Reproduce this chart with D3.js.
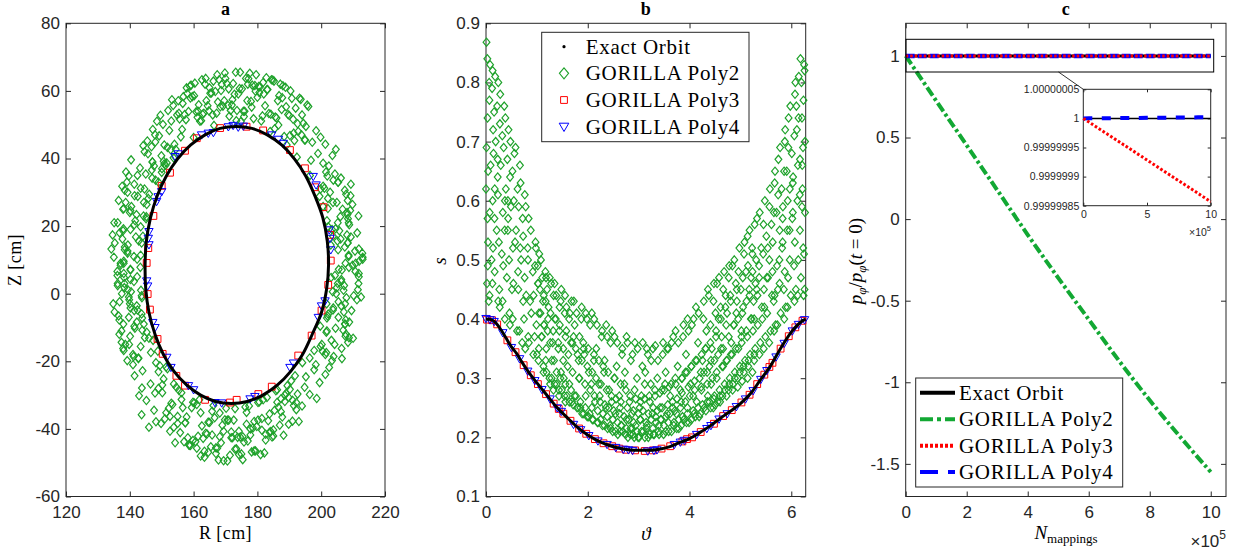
<!DOCTYPE html>
<html>
<head>
<meta charset="utf-8">
<script src="https://cdn.jsdelivr.net/npm/d3@7"></script>
<style>
  body { margin: 0; background: #fff; }
</style>
</head>
<body>
<svg id="fig" width="1236" height="552"></svg>
<script>
// ---------- data ----------
const legendNames = ['Exact Orbit', 'GORILLA Poly2', 'GORILLA Poly3', 'GORILLA Poly4'];

// panel a: R [cm], Z [cm]
const aXTicks = [120, 140, 160, 180, 200, 220];
const aYTicks = [-60, -40, -20, 0, 20, 40, 60, 80];
const aExact = [[202.3,8.5],[201.9,15.6],[200.5,22.5],[198.0,29.0],[195.1,34.9],[191.6,39.9],[187.6,44.0],[183.1,47.0],[178.3,48.9],[173.3,49.5],[168.3,48.9],[163.6,47.0],[159.1,44.0],[155.0,39.9],[151.5,34.9],[148.6,29.0],[146.5,22.5],[145.2,15.6],[144.8,8.5],[145.0,1.4],[146.0,-5.5],[147.9,-12.0],[150.5,-17.9],[153.8,-22.9],[157.8,-27.0],[162.2,-30.0],[166.9,-31.9],[171.8,-32.5],[176.8,-31.9],[181.7,-30.0],[186.3,-27.0],[190.5,-22.9],[194.2,-17.9],[197.2,-12.0],[200.1,-5.5],[201.7,1.4]];
const aPoly2 = [
[150.0,35.9],[150.8,44.0],[151.6,38.7],[152.4,48.3],[153.2,57.4],[154.0,44.2],[154.8,52.9],[155.6,51.7],[156.4,48.6],[157.2,53.0],[158.0,59.2],[158.8,61.4],[159.6,58.3],[160.4,62.3],[161.2,52.2],[162.0,51.0],[162.8,53.1],[163.6,62.0],[164.4,55.6],[165.2,59.3],[166.0,52.9],[166.8,59.8],[167.6,56.7],[168.4,55.3],[169.2,55.5],[170.0,63.7],[170.8,55.7],[171.6,54.2],[172.4,62.2],[173.2,65.5],[174.0,59.1],[174.8,50.9],[175.6,54.0],[176.4,63.7],[177.2,63.6],[178.0,56.9],[178.8,51.8],[179.6,64.8],[180.4,61.3],[181.2,51.1],[182.0,59.1],[182.8,63.9],[183.6,53.3],[184.4,63.3],[185.2,62.9],[186.0,52.0],[186.8,58.6],[187.6,54.5],[188.4,46.5],[189.2,44.0],[190.0,52.7],[190.8,57.8],[191.6,45.3],[192.4,40.4],[193.2,57.8],[194.0,52.9],[194.8,45.5],[195.6,55.8],
[150.4,50.1],[151.2,38.0],[152.0,54.2],[152.8,42.6],[153.6,55.7],[154.4,42.7],[155.2,57.1],[156.0,46.4],[156.8,58.3],[157.6,51.5],[158.4,53.9],[159.2,61.7],[160.0,46.2],[160.8,53.8],[161.6,55.9],[162.4,51.2],[163.2,53.4],[164.0,57.1],[164.8,54.1],[165.6,59.4],[166.4,49.8],[167.2,53.4],[168.0,63.3],[168.8,61.9],[169.6,57.1],[170.4,62.2],[171.2,52.5],[172.0,55.8],[172.8,59.0],[173.6,54.2],[174.4,60.7],[175.2,60.6],[176.0,54.0],[176.8,57.1],[177.6,65.2],[178.4,61.7],[179.2,61.6],[180.0,58.1],[180.8,61.2],[181.6,52.6],[182.4,55.6],[183.2,60.4],[184.0,48.0],[184.8,63.2],[185.6,52.3],[186.4,57.1],[187.2,62.0],[188.0,61.5],[188.8,61.1],[189.6,53.0],[190.4,60.0],[191.2,51.6],[192.0,54.9],[192.8,48.0],[193.6,57.5],[194.4,50.4],[195.2,49.5],[196.0,55.4],
[150.6,39.2],[151.8,43.3],[153.0,51.1],[154.2,40.5],[155.4,53.4],[156.6,56.3],[157.8,60.9],[159.0,57.9],[160.2,58.6],[161.4,54.0],[162.6,63.3],[163.8,63.7],[165.0,60.9],[166.2,62.9],[167.4,64.8],[168.6,60.1],[169.8,65.3],[171.0,60.6],[172.2,57.4],[173.4,51.2],[174.6,65.5],[175.8,52.4],[177.0,62.0],[178.2,55.2],[179.4,59.9],[180.6,59.5],[181.8,62.5],[183.0,60.4],[184.2,53.1],[185.4,48.8],[186.6,49.9],[187.8,58.0],[189.0,55.3],[190.2,46.8],[191.4,47.5],[192.6,50.3],[193.8,47.0],[195.0,45.5],
[201.5,36.0],[201.9,34.8],[203.8,33.6],[209.3,32.4],[201.0,31.2],[202.8,30.0],[199.5,28.8],[208.3,27.6],[209.8,26.4],[202.1,25.2],[208.1,24.0],[206.0,22.8],[201.8,21.6],[208.8,20.4],[204.5,19.2],[211.3,18.0],[209.3,16.8],[205.1,15.6],[203.0,14.4],[211.8,13.2],[212.9,12.0],[213.0,10.8],[211.9,9.6],[209.8,8.4],[205.5,7.2],[211.8,6.0],[203.1,4.8],[206.3,3.6],[207.2,2.4],[211.5,1.2],[204.7,0.0],[207.9,-1.2],[205.4,-2.4],[206.3,-3.6],[203.7,-4.8],[202.2,-6.0],[201.8,-7.2],[208.8,-8.4],[199.7,-9.6],[206.9,-10.8],[207.8,-12.0],[210.0,-13.2],[208.4,-14.4],[199.8,-15.6],[197.8,-16.8],[201.3,-18.0],[206.5,-19.2],[194.1,-20.4],
[204.3,35.4],[206.2,34.2],[205.3,33.0],[200.6,31.8],[207.4,30.6],[207.8,29.4],[202.1,28.2],[204.9,27.0],[200.6,25.8],[209.1,24.6],[208.2,23.4],[208.4,22.2],[205.2,21.0],[202.2,19.8],[205.7,18.6],[208.1,17.4],[206.1,16.2],[208.3,15.0],[207.4,13.8],[210.6,12.6],[208.6,11.4],[213.0,10.2],[207.6,9.0],[208.7,7.8],[210.7,6.6],[204.3,5.4],[206.3,4.2],[211.7,3.0],[204.9,1.8],[203.6,0.6],[210.2,-0.6],[211.2,-1.8],[207.5,-3.0],[203.8,-4.2],[207.1,-5.4],[202.0,-6.6],[207.7,-7.8],[207.5,-9.0],[204.5,-10.2],[201.6,-11.4],[207.6,-12.6],[203.2,-13.8],[200.2,-15.0],[206.4,-16.2],[201.6,-17.4],[203.9,-18.6],[203.4,-19.8],[198.3,-21.0],
[196.5,35.0],[205.3,33.0],[199.8,31.0],[209.2,29.0],[203.7,27.0],[206.7,25.0],[211.7,23.0],[208.6,21.0],[203.4,19.0],[203.7,17.0],[208.3,15.0],[205.3,13.0],[208.6,11.0],[210.8,9.0],[206.5,7.0],[211.8,5.0],[205.2,3.0],[207.0,1.0],[212.5,-1.0],[201.7,-3.0],[209.5,-5.0],[205.4,-7.0],[207.4,-9.0],[201.8,-11.0],[208.7,-13.0],[204.2,-15.0],[200.4,-17.0],[196.4,-19.0],
[193.0,-37.8],[192.2,-34.3],[191.4,-33.1],[190.6,-25.8],[189.8,-30.7],[189.0,-29.5],[188.2,-41.9],[187.4,-31.1],[186.6,-33.6],[185.8,-28.7],[185.0,-40.3],[184.2,-40.8],[183.4,-37.6],[182.6,-43.3],[181.8,-31.4],[181.0,-47.6],[180.2,-37.4],[179.4,-46.5],[178.6,-39.7],[177.8,-40.0],[177.0,-43.6],[176.2,-33.5],[175.4,-49.1],[174.6,-42.4],[173.8,-42.5],[173.0,-34.0],[172.2,-42.6],[171.4,-47.8],[170.6,-37.4],[169.8,-37.3],[169.0,-38.9],[168.2,-35.3],[167.4,-45.7],[166.6,-36.7],[165.8,-41.8],[165.0,-38.1],[164.2,-41.5],[163.4,-48.4],[162.6,-39.1],[161.8,-31.4],[161.0,-45.7],[160.2,-32.3],[159.4,-33.7],[158.6,-44.8],[157.8,-36.5],[157.0,-43.8],[156.2,-29.3],[155.4,-28.6],[154.6,-27.7],[153.8,-39.5],[153.0,-32.4],[152.2,-33.9],[151.4,-21.7],[150.6,-25.2],[149.8,-38.4],[149.0,-28.0],
[192.6,-29.7],[191.8,-24.3],[191.0,-31.5],[190.2,-28.3],[189.4,-27.2],[188.6,-31.9],[187.8,-36.5],[187.0,-38.9],[186.2,-32.1],[185.4,-34.5],[184.6,-42.4],[183.8,-35.6],[183.0,-30.7],[182.2,-47.1],[181.4,-40.4],[180.6,-32.0],[179.8,-39.3],[179.0,-46.5],[178.2,-46.8],[177.4,-33.2],[176.6,-35.1],[175.8,-43.9],[175.0,-47.4],[174.2,-47.6],[173.4,-45.9],[172.6,-37.4],[171.8,-40.9],[171.0,-37.4],[170.2,-33.9],[169.4,-49.4],[168.6,-44.1],[167.8,-49.2],[167.0,-47.3],[166.2,-33.1],[165.4,-45.3],[164.6,-46.9],[163.8,-41.3],[163.0,-42.8],[162.2,-48.0],[161.4,-42.2],[160.6,-43.8],[159.8,-32.1],[159.0,-44.9],[158.2,-42.6],[157.4,-38.2],[156.6,-33.7],[155.8,-41.1],[155.0,-38.4],[154.2,-44.1],[153.4,-32.8],[152.6,-40.7],[151.8,-22.2],[151.0,-37.0],[150.2,-27.0],[149.4,-21.3],
[192.2,-32.2],[191.0,-37.7],[189.8,-38.6],[188.6,-30.0],[187.4,-34.9],[186.2,-28.4],[185.0,-42.1],[183.8,-41.0],[182.6,-41.6],[181.4,-36.9],[180.2,-32.2],[179.0,-37.8],[177.8,-41.8],[176.6,-38.6],[175.4,-42.3],[174.2,-40.7],[173.0,-46.0],[171.8,-42.6],[170.6,-49.5],[169.4,-40.7],[168.2,-42.3],[167.0,-45.6],[165.8,-34.8],[164.6,-38.0],[163.4,-46.6],[162.2,-35.2],[161.0,-32.8],[159.8,-43.4],[158.6,-44.8],[157.4,-38.2],[156.2,-31.3],[155.0,-36.3],[153.8,-26.7],[152.6,-36.3],[151.4,-35.2],[150.2,-29.3],[149.0,-23.1],
[141.0,-21.0],[139.2,-19.8],[141.2,-18.6],[146.6,-17.4],[137.9,-16.2],[138.6,-15.0],[147.3,-13.8],[140.1,-12.6],[145.3,-11.4],[141.6,-10.2],[138.0,-9.0],[136.7,-7.8],[136.5,-6.6],[135.2,-5.4],[140.2,-4.2],[140.0,-3.0],[139.8,-1.8],[143.7,-0.6],[140.4,0.6],[138.3,1.8],[138.3,3.0],[140.2,4.2],[136.1,5.4],[136.1,6.6],[143.3,7.8],[138.1,9.0],[142.3,10.2],[143.4,11.4],[139.3,12.6],[138.4,13.8],[143.7,15.0],[137.7,16.2],[134.6,17.4],[137.9,18.6],[143.4,19.8],[136.2,21.0],[145.1,22.2],[142.1,23.4],[140.2,24.6],[140.5,25.8],[138.7,27.0],[145.8,28.2],[146.1,29.4],[138.4,30.6],[137.6,31.8],[149.0,33.0],[147.0,34.2],[145.0,35.4],[146.9,36.6],[147.6,37.8],[147.1,39.0],[153.7,40.2],[145.7,41.4],
[148.2,-20.4],[142.7,-19.2],[141.0,-18.0],[138.1,-16.8],[143.4,-15.6],[137.4,-14.4],[146.0,-13.2],[136.7,-12.0],[143.9,-10.8],[141.4,-9.6],[142.2,-8.4],[143.9,-7.2],[143.7,-6.0],[142.4,-4.8],[142.2,-3.6],[136.8,-2.4],[143.8,-1.2],[137.5,0.0],[139.4,1.2],[136.2,2.4],[141.3,3.6],[138.2,4.8],[138.1,6.0],[140.2,7.2],[137.1,8.4],[138.1,9.6],[135.0,10.8],[139.3,12.0],[134.2,13.2],[139.4,14.4],[142.8,15.6],[141.9,16.8],[136.8,18.0],[138.0,19.2],[141.4,20.4],[141.7,21.6],[145.2,22.8],[140.0,24.0],[138.1,25.2],[145.3,26.4],[136.5,27.6],[142.5,28.8],[139.3,30.0],[143.4,31.2],[141.4,32.4],[148.1,33.6],[139.7,34.8],[138.8,36.0],[143.2,37.2],[150.8,38.4],[140.4,39.6],[149.9,40.8],[144.6,42.0],
[142.7,-19.0],[148.8,-17.0],[139.8,-15.0],[144.7,-13.0],[137.4,-11.0],[144.4,-9.0],[139.7,-7.0],[141.4,-5.0],[134.8,-3.0],[139.7,-1.0],[143.5,1.0],[136.2,3.0],[142.3,5.0],[140.2,7.0],[137.1,9.0],[141.3,11.0],[138.4,13.0],[135.3,15.0],[144.1,17.0],[140.2,19.0],[135.1,21.0],[144.3,23.0],[137.9,25.0],[144.4,27.0],[141.5,29.0],[144.6,31.0],[139.1,33.0],[142.4,35.0],[150.1,37.0],[147.1,39.0],
[145.5,45.2],[147.2,48.6],[148.5,51.0],[146.8,43.5],[149.2,46.7],[144.2,43.8],[148.0,44.9],[149.6,52.8],[147.9,47.0],
[197.2,44.8],[199.0,41.5],[201.3,44.2],[203.5,40.9],[198.4,48.2],[200.6,38.6],[196.8,39.5],[202.4,37.8],[204.6,42.7],[199.8,46.3],
[195.2,-24.6],[197.8,-22.5],[199.5,-26.3],[196.4,-29.8],[194.0,-33.2],[201.3,-23.9],[198.6,-31.0],[194.8,-27.7],[202.5,-21.8],
[141.5,-24.3],[143.8,-27.9],[145.2,-31.6],[147.6,-34.5],[144.0,-22.8],[146.5,-26.7],[142.9,-30.2],[148.2,-37.9],[146.0,-39.5],[143.7,-35.8],[147.9,-29.4]
];
const aPoly3 = [[168.3,49.0],[176.6,49.4],[181.8,48.3],[190.2,42.5],[194.9,37.1],[198.1,31.5],[200.7,25.6],[202.8,17.4],[203.0,9.8],[157.3,42.3],[152.6,35.8],[150.0,31.9],[147.4,23.0],[145.8,13.5],[145.3,9.1],[161.0,46.0],[145.6,-0.1],[146.3,-4.7],[148.7,-13.4],[150.3,-17.8],[154.6,-24.3],[157.3,-27.2],[163.6,-31.4],[171.4,-32.2],[173.5,-31.4],[180.3,-29.7],[184.5,-27.5],[192.8,-18.3],[197.0,-12.4],[200.1,-5.0],[202.2,2.6]];
const aPoly4 = [[172.4,49.8],[174.0,49.3],[175.6,49.6],[170.9,49.4],[162.5,47.0],[164.6,47.5],[166.2,47.7],[154.2,40.6],[155.2,41.4],[148.9,28.7],[150.0,30.2],[148.4,27.3],[146.0,18.4],[145.8,16.4],[146.0,14.5],[184.5,47.0],[186.6,45.7],[188.1,44.5],[197.5,34.7],[198.4,32.2],[202.5,18.9],[202.8,16.4],[203.0,13.0],[145.3,3.8],[145.6,2.3],[147.2,-8.5],[147.9,-10.0],[151.6,-18.8],[152.9,-21.8],[158.4,-27.2],[160.0,-28.4],[166.7,-32.2],[168.8,-32.3],[177.7,-31.1],[179.2,-30.4],[190.2,-21.8],[191.3,-20.5],[200.1,-3.6],[201.2,-2.1],[199.1,-7.0]];

// panel b: theta, s
const bXTicks = [0, 2, 4, 6];
const bYTicks = [0.1, 0.2, 0.3, 0.4, 0.5, 0.6, 0.7, 0.8, 0.9];
const bExact = [[0,0.400],[0.1,0.399],[0.2,0.393],[0.3,0.381],[0.4,0.367],[0.5,0.353],[0.6,0.342],[0.7,0.328],[0.8,0.315],[0.9,0.303],[1.0,0.292],[1.2,0.271],[1.4,0.250],[1.6,0.233],[1.8,0.217],[2.0,0.204],[2.2,0.194],[2.4,0.187],[2.6,0.182],[2.8,0.179],[3.0,0.178],[3.2,0.178],[3.4,0.180],[3.6,0.184],[3.8,0.191],[4.0,0.198],[4.2,0.208],[4.4,0.219],[4.6,0.232],[4.8,0.244],[5.0,0.257],[5.2,0.274],[5.4,0.298],[5.6,0.322],[5.8,0.352],[6.0,0.378],[6.1,0.388],[6.2,0.396],[6.2832,0.400]];
const bPoly2 = [
[0.01,.868],[0.03,.74],[0.00,.62],[0.04,.53],[0.02,.46],[0.01,.69],[0.03,.57],
[0.08,.83],[0.12,.79],[0.09,.66],[0.13,.60],[0.11,.50],[0.07,.44],[0.14,.72],
[0.18,.81],[0.22,.76],[0.19,.70],[0.23,.64],[0.21,.55],[0.17,.48],[0.24,.43],
[0.28,.78],[0.32,.71],[0.29,.66],[0.33,.58],[0.31,.51],[0.27,.42],
[0.38,.74],[0.42,.67],[0.39,.62],[0.43,.55],[0.41,.47],[0.37,.40],
[0.48,.70],[0.52,.65],[0.49,.59],[0.53,.52],[0.51,.45],[0.47,.39],
[0.58,.69],[0.62,.62],[0.59,.55],[0.63,.48],[0.61,.38],
[0.68,.63],[0.72,.57],[0.69,.50],[0.73,.43],[0.71,.36],
[0.78,.59],[0.82,.52],[0.79,.44],[0.83,.37],
[0.88,.55],[0.92,.48],[0.89,.41],[0.93,.34],
[0.98,.52],[1.02,.46],[0.99,.39],[1.03,.33],
[1.08,.50],[1.12,.43],[1.09,.37],[1.13,.31],
[1.18,.47],[1.22,.40],[1.19,.31],[1.28,.46],[1.32,.38],[1.29,.30],[1.38,.44],[1.42,.36],[1.39,.29],
[1.48,.45],[1.52,.35],[1.49,.28],[1.58,.42],[1.62,.34],[1.59,.27],[1.68,.43],[1.72,.37],[1.69,.26],
[1.78,.41],[1.82,.33],[1.79,.25],[1.88,.42],[1.92,.35],[1.89,.24],[1.98,.40],[2.02,.31],[1.99,.235],
[2.08,.41],[2.12,.33],[2.09,.23],[2.18,.39],[2.22,.29],[2.19,.225],[2.28,.38],[2.32,.31],[2.29,.22],
[2.38,.37],[2.42,.28],[2.39,.215],[2.48,.38],[2.52,.30],[2.49,.21],[2.58,.36],[2.62,.27],[2.59,.205],
[2.68,.35],[2.72,.29],[2.69,.21],[2.78,.36],[2.82,.26],[2.79,.20],[2.88,.34],[2.92,.28],[2.89,.205],
[2.98,.35],[3.02,.25],[2.99,.20],[3.08,.36],[3.12,.29],[3.09,.21],[3.18,.34],[3.22,.26],[3.19,.20],
[3.28,.35],[3.32,.28],[3.29,.205],[3.38,.33],[3.42,.25],[3.39,.21],[3.48,.36],[3.52,.29],[3.49,.205],
[3.58,.35],[3.62,.27],[3.59,.21],[3.68,.37],[3.72,.30],[3.69,.22],[3.78,.36],[3.82,.28],[3.79,.215],
[3.88,.39],[3.92,.31],[3.89,.23],[3.98,.38],[4.02,.29],[3.99,.225],[4.08,.40],[4.12,.33],[4.09,.24],
[4.18,.41],[4.22,.31],[4.19,.235],[4.28,.43],[4.32,.35],[4.29,.25],
[4.38,.44],[4.42,.33],[4.39,.26],[4.41,.39],[4.48,.46],[4.52,.37],[4.49,.27],[4.51,.41],
[4.58,.47],[4.62,.35],[4.59,.28],[4.61,.42],[4.68,.48],[4.72,.39],[4.69,.29],[4.71,.44],
[4.78,.49],[4.82,.36],[4.79,.30],[4.81,.43],[4.88,.50],[4.92,.41],[4.89,.31],[4.91,.46],
[4.98,.52],[5.02,.38],[4.99,.32],[5.01,.45],[5.08,.53],[5.12,.43],[5.09,.33],[5.11,.48],
[5.18,.55],[5.22,.40],[5.19,.34],[5.21,.47],
[5.28,.56],[5.32,.45],[5.29,.35],[5.31,.50],[5.27,.40],[5.38,.58],[5.42,.42],[5.39,.36],[5.41,.52],[5.37,.47],
[5.48,.60],[5.52,.47],[5.49,.37],[5.51,.54],[5.47,.42],[5.58,.62],[5.62,.44],[5.59,.38],[5.61,.56],[5.57,.50],
[5.68,.65],[5.72,.49],[5.69,.39],[5.71,.58],[5.67,.44],
[5.78,.69],[5.82,.52],[5.79,.41],[5.81,.62],[5.77,.46],[5.83,.57],
[5.88,.72],[5.92,.55],[5.89,.42],[5.91,.65],[5.87,.48],[5.93,.60],
[5.98,.76],[6.02,.57],[5.99,.44],[6.01,.68],[5.97,.50],[6.03,.63],
[6.08,.80],[6.12,.60],[6.09,.45],[6.11,.72],[6.07,.53],[6.13,.66],[6.10,.76],
[6.18,.84],[6.22,.62],[6.19,.47],[6.21,.74],[6.17,.55],[6.23,.69],[6.20,.80],
[6.26,.82],[6.27,.58],[6.25,.51],[6.27,.70],[6.26,.45],
[0.026,.84],[0.067,.77],[0.042,.65],[0.073,.58],[0.035,.49],[0.054,.43],[0.062,.80],
[0.13,.82],[0.159,.75],[0.147,.68],[0.171,.62],[0.138,.52],[0.126,.46],[0.167,.57],
[0.242,.80],[0.273,.73],[0.235,.61],[0.254,.53],[0.262,.45],[0.23,.67],
[0.359,.76],[0.347,.69],[0.371,.60],[0.338,.49],[0.326,.43],[0.367,.55],
[0.442,.72],[0.473,.64],[0.435,.57],[0.454,.50],[0.462,.41],[0.43,.60],
[0.559,.68],[0.547,.60],[0.571,.53],[0.538,.46],[0.526,.40],
[0.667,.66],[0.642,.59],[0.673,.52],[0.635,.45],[0.654,.38],
[0.762,.61],[0.73,.54],[0.759,.47],[0.747,.40],[0.771,.35],
[0.838,.57],[0.826,.50],[0.867,.43],[0.842,.36],
[0.973,.53],[0.935,.44],[0.954,.37],[0.962,.49],
[1.047,.51],[1.071,.41],[1.038,.35],[1.026,.46],[1.167,.48],[1.142,.39],[1.173,.33],[1.135,.44],
[1.254,.47],[1.262,.36],[1.23,.42],[1.259,.29],[1.347,.46],[1.371,.40],[1.338,.33],[1.326,.28],
[1.467,.43],[1.442,.38],[1.473,.31],[1.435,.27],[1.554,.44],[1.562,.37],[1.53,.30],[1.559,.26],
[1.647,.41],[1.671,.36],[1.638,.29],[1.726,.43],[1.767,.35],[1.742,.27],[1.873,.40],[1.835,.30],[1.854,.25],
[1.962,.41],[1.93,.34],[1.959,.27],[2.047,.39],[2.071,.29],[2.038,.24],[2.126,.40],[2.167,.35],[2.142,.26],
[2.273,.37],[2.235,.27],[2.254,.23],[2.362,.39],[2.33,.33],[2.359,.25],[2.447,.36],[2.471,.26],[2.438,.22],
[2.526,.37],[2.567,.32],[2.542,.24],[2.673,.34],[2.635,.25],[2.654,.22],[2.762,.37],[2.73,.31],[2.759,.23],
[2.847,.33],[2.871,.24],[2.838,.215],[2.926,.36],[2.967,.30],[2.942,.22],[3.073,.32],[3.035,.23],[3.054,.27],
[3.162,.35],[3.13,.31],[3.159,.22],[3.247,.33],[3.271,.24],[3.238,.29],[3.326,.355],[3.367,.30],[3.342,.225],
[3.473,.34],[3.435,.23],[3.454,.28],[3.562,.35],[3.53,.31],[3.559,.24],[3.647,.36],[3.671,.25],[3.638,.29],
[3.726,.38],[3.767,.32],[3.742,.24],[3.873,.37],[3.835,.26],[3.854,.30],[3.962,.40],[3.93,.34],[3.959,.25],
[4.047,.39],[4.071,.27],[4.038,.32],[4.126,.42],[4.167,.36],[4.142,.26],[4.273,.40],[4.235,.28],[4.254,.33],
[4.362,.45],[4.33,.38],[4.359,.27],[4.347,.31],[4.471,.43],[4.438,.35],[4.426,.29],[4.467,.25],
[4.542,.46],[4.573,.40],[4.535,.30],[4.554,.26],[4.662,.45],[4.63,.37],[4.659,.32],[4.647,.27],
[4.771,.47],[4.738,.41],[4.726,.33],[4.767,.28],[4.842,.49],[4.873,.39],[4.835,.34],[4.854,.29],
[4.962,.48],[4.93,.43],[4.959,.35],[4.947,.30],[5.071,.51],[5.038,.41],[5.026,.36],[5.067,.31],
[5.142,.54],[5.173,.45],[5.135,.37],[5.154,.32],
[5.23,.52],[5.259,.43],[5.247,.38],[5.271,.33],[5.238,.48],
[5.326,.57],[5.367,.49],[5.342,.39],[5.373,.34],[5.335,.44],
[5.454,.56],[5.462,.45],[5.43,.40],[5.459,.35],[5.447,.51],
[5.571,.59],[5.538,.52],[5.526,.41],[5.567,.36],[5.542,.47],
[5.673,.63],[5.635,.53],[5.654,.43],[5.662,.38],[5.63,.48],[5.659,.58],
[5.747,.67],[5.771,.55],[5.738,.45],[5.726,.39],[5.767,.50],[5.742,.61],
[5.873,.70],[5.835,.59],[5.854,.45],[5.862,.40],[5.83,.53],[5.859,.65],
[5.947,.74],[5.971,.62],[5.938,.47],[5.926,.42],[5.967,.55],[5.942,.69],
[6.073,.78],[6.035,.64],[6.054,.49],[6.062,.43],[6.03,.58],[6.059,.71],
[6.147,.81],[6.171,.67],[6.138,.50],[6.126,.44],[6.167,.61],[6.142,.74],
[6.253,.83],[6.215,.66],[6.234,.52],[6.242,.44],[6.21,.59],[6.239,.77],
[1.001,.34],[1.042,.41],[1.017,.49],[1.098,.37],[1.060,.45],[1.129,.32],[1.137,.39],[1.105,.47],[1.184,.35],[1.172,.43],
[1.246,.30],[1.213,.38],[1.201,.45],[1.292,.33],[1.267,.41],[1.348,.29],[1.310,.36],[1.329,.44],[1.387,.31],[1.355,.40],
[1.434,.28],[1.422,.35],[1.446,.42],[1.463,.30],[1.451,.39],[1.542,.27],[1.517,.33],[1.548,.41],[1.560,.29],[1.579,.38],
[1.637,.26],[1.605,.32],[1.634,.40],[1.672,.28],[1.696,.36],[1.713,.255],[1.701,.31],[1.742,.39],[1.767,.27],[1.798,.34],
[1.810,.25],[1.829,.30],[1.837,.37],[1.855,.26],[1.884,.33],[1.922,.24],[1.946,.29],[1.913,.36],[1.951,.25],[1.992,.32],
[2.017,.235],[2.048,.28],[2.010,.35],[2.079,.25],[2.087,.31],[2.105,.23],[2.134,.27],[2.122,.34],[2.196,.245],[2.163,.30],
[2.201,.225],[2.242,.26],[2.217,.33],[2.298,.24],[2.260,.29],[2.329,.22],[2.337,.255],[2.305,.32],[2.384,.235],[2.372,.28],
[2.446,.215],[2.413,.25],[2.401,.31],[2.492,.23],[2.467,.27],[2.548,.21],[2.510,.245],[2.529,.30],[2.587,.225],[2.555,.265],
[2.634,.21],[2.622,.24],[2.646,.29],[2.663,.22],[2.651,.26],[2.742,.205],[2.717,.235],[2.748,.28],[2.760,.215],[2.779,.25],
[2.837,.205],[2.805,.23],[2.834,.27],[2.872,.215],[2.896,.245],[2.913,.20],[2.901,.225],[2.942,.265],[2.967,.21],[2.998,.24],
[3.010,.20],[3.029,.23],[3.037,.26],[3.055,.21],[3.084,.245],[3.122,.20],[3.146,.225],[3.113,.265],[3.151,.215],[3.192,.24],
[3.217,.205],[3.248,.23],[3.210,.27],[3.279,.215],[3.287,.25],[3.305,.205],[3.334,.235],[3.322,.27],[3.396,.22],[3.363,.245],
[3.401,.205],[3.442,.23],[3.417,.275],[3.498,.22],[3.460,.25],[3.529,.21],[3.537,.235],[3.505,.28],[3.584,.225],[3.572,.255],
[3.646,.21],[3.613,.24],[3.601,.285],[3.692,.225],[3.667,.26],[3.748,.215],[3.710,.245],[3.729,.29],[3.787,.23],[3.755,.265],
[3.834,.22],[3.822,.25],[3.846,.30],[3.863,.235],[3.851,.275],[3.942,.225],[3.917,.26],[3.948,.31],[3.960,.24],[3.979,.285],
[4.037,.23],[4.005,.27],[4.034,.32],[4.072,.245],[4.096,.295],[4.113,.235],[4.101,.28],[4.142,.33],[4.167,.25],[4.198,.30],
[4.210,.24],[4.229,.285],[4.237,.34],[4.255,.255],[4.284,.31],[4.322,.245],[4.346,.29],[4.313,.35],[4.351,.26],[4.392,.32],
[4.417,.25],[4.448,.30],[4.410,.36],[4.479,.265],[4.487,.33],[4.505,.255],[4.534,.31],[4.522,.38],[4.596,.27],[4.563,.34],
[4.601,.26],[4.642,.32],[4.617,.40],[4.698,.28],[4.660,.35],[4.729,.27],[4.737,.33],[4.705,.42],[4.784,.29],[4.772,.37],
[4.846,.28],[4.813,.34],[4.801,.44],[4.892,.30],[4.867,.39],[4.948,.285],[4.910,.35],[4.929,.45],[4.987,.31],[4.955,.40],
[5.034,.295],[5.022,.37],[5.046,.47],[5.063,.32],[5.051,.42],[5.142,.30],[5.117,.38],[5.148,.49],[5.160,.33],[5.179,.44],
[5.237,.31],[5.205,.40],[5.234,.51],[5.272,.34],[5.296,.46]
];
const bPoly3 = [[0.02,0.399],[0.22,0.391],[0.42,0.364],[0.58,0.344],[0.74,0.322],[0.88,0.305],[1.02,0.290],[1.18,0.273],[1.33,0.257],[1.52,0.240],[1.66,0.228],[1.83,0.215],[1.97,0.206],[2.14,0.197],[2.31,0.190],[2.48,0.185],[2.62,0.181],[2.93,0.178],[3.12,0.177],[3.28,0.178],[3.45,0.181],[3.62,0.185],[3.86,0.193],[4.05,0.200],[4.22,0.209],[4.48,0.223],[4.66,0.236],[4.83,0.246],[5.02,0.259],[5.18,0.272],[5.33,0.290],[5.47,0.306],[5.63,0.326],[5.79,0.350],[5.95,0.371],[6.08,0.386],[6.22,0.397],[0.12,0.398],[1.43,0.248],[2.75,0.179],[3.95,0.197],[5.57,0.319]];
const bPoly4 = [[0.00,0.401],[0.08,0.399],[0.16,0.396],[0.33,0.377],[0.50,0.352],[0.66,0.333],[0.82,0.312],[0.96,0.296],[1.10,0.281],[1.26,0.265],[1.40,0.250],[1.48,0.244],[1.72,0.222],[1.86,0.213],[2.02,0.203],[2.20,0.194],[2.38,0.188],[2.55,0.183],[2.70,0.180],[2.80,0.179],[2.88,0.178],[3.18,0.177],[3.30,0.178],[3.36,0.179],[3.70,0.188],[3.82,0.192],[3.90,0.195],[4.14,0.205],[4.34,0.215],[4.42,0.220],[4.58,0.231],[4.74,0.240],[4.92,0.252],[5.10,0.265],[5.25,0.279],[5.40,0.298],[5.52,0.313],[5.70,0.336],[5.86,0.359],[6.02,0.380],[6.14,0.391],[6.26,0.399]];

// panel c: mappings (x 1e5) vs p_phi / p_phi(t=0)
const cXTicks = [0, 2, 4, 6, 8, 10];
const cYTicks = [-1.5, -1, -0.5, 0, 0.5, 1];
const cMappings = [0, 1, 2, 3, 4, 5, 6, 7, 8, 9, 10];
const cExact = [1, 1, 1, 1, 1, 1, 1, 1, 1, 1, 1];
const cPoly2 = [1.0, 0.725, 0.452, 0.178, -0.096, -0.36, -0.615, -0.87, -1.11, -1.335, -1.55];
const cPoly3 = [1.0, 0.9999999857, 0.9999999714, 0.9999999571, 0.9999999428, 0.9999999285, 0.9999999142, 0.9999998999, 0.9999998856, 0.9999998713, 0.999999857];
const cPoly4 = [1.0, 1.0000000002, 1.0000000004, 1.0000000006, 1.0000000008, 1.000000001, 1.0000000012, 1.0000000014, 1.0000000016, 1.0000000018, 1.000000002];
const insetXTicks = [0, 5, 10];
const insetYTicks = [0.99999985, 0.9999999, 0.99999995, 1, 1.00000005];
const insetYLabels = ['0.99999985', '0.9999999', '0.99999995', '1', '1.00000005'];

// ---------- drawing ----------
const svg = d3.select('#fig');
const ink = '#262626';
const sans = '"Liberation Sans", Arial, Helvetica, sans-serif';
const serif = '"Liberation Serif", "Times New Roman", serif';
const green = '#1fa22b';
const greenLine = '#12a833';

const diamond = 'M0,-4.1L3.4,0L0,4.1L-3.4,0Z';
const square = 'M-3.4,-3.4H3.4V3.4H-3.4Z';
const triDown = 'M-4.2,-3L4.2,-3L0,4.3Z';

const drawAxes = (box, x, y, xTicks, yTicks, o) => {
    const g = svg.append('g');
    const yFmt = o.yFmt || ((d) => String(d));
    g.append('g')
     .attr('transform', 'translate(0,' + box.b + ')')
     .call(d3.axisBottom(x).tickValues(xTicks).tickSizeInner(-o.tick).tickSizeOuter(0).tickPadding(o.xPad).tickFormat((d) => String(d)));
    g.append('g')
     .attr('transform', 'translate(0,' + box.t + ')')
     .call(d3.axisTop(x).tickValues(xTicks).tickSizeInner(-o.tick).tickSizeOuter(0).tickFormat(''));
    g.append('g')
     .attr('transform', 'translate(' + box.l + ',0)')
     .call(d3.axisLeft(y).tickValues(yTicks).tickSizeInner(-o.tick).tickSizeOuter(0).tickPadding(o.yPad).tickFormat(yFmt));
    g.append('g')
     .attr('transform', 'translate(' + box.r + ',0)')
     .call(d3.axisRight(y).tickValues(yTicks).tickSizeInner(-o.tick).tickSizeOuter(0).tickFormat(''));
    g.selectAll('.domain').remove();
    g.selectAll('.tick line').attr('stroke', ink).attr('stroke-width', 1);
    g.selectAll('.tick text').attr('fill', ink).attr('font-family', sans).attr('font-size', o.font);
    g.append('rect')
     .attr('x', box.l).attr('y', box.t)
     .attr('width', box.r - box.l).attr('height', box.b - box.t)
     .attr('fill', 'none').attr('stroke', ink).attr('stroke-width', 1);
    return g;
};

const drawMarkers = (data, x, y, shape, color, sw) => {
    svg.append('g').selectAll('path')
       .data(data)
       .enter()
       .append('path')
       .attr('d', shape)
       .attr('transform', (d) => 'translate(' + x(d[0]) + ',' + y(d[1]) + ')')
       .attr('fill', 'none')
       .attr('stroke', color)
       .attr('stroke-width', sw);
};

const addText = (txt, px, py, size, opts = {}) => {
    return svg.append('text')
              .attr('x', px).attr('y', py)
              .attr('font-family', opts.family || serif)
              .attr('font-size', size)
              .attr('font-weight', opts.weight || 'normal')
              .attr('font-style', opts.style || 'normal')
              .attr('text-anchor', opts.anchor || 'middle')
              .attr('fill', '#000')
              .text(txt);
};

// ---- panel a ----
const boxA = { l: 66, r: 385, t: 23.3, b: 496.5 };
const xA = d3.scaleLinear().domain([120, 220]).range([boxA.l, boxA.r]);
const yA = d3.scaleLinear().domain([-60, 80]).range([boxA.b, boxA.t]);
drawAxes(boxA, xA, yA, aXTicks, aYTicks, { tick: 5, xPad: 9, yPad: 6, font: 17 });
drawMarkers(aPoly2, xA, yA, diamond, green, 1.2);
drawMarkers(aPoly3, xA, yA, square, '#ff0000', 1);
drawMarkers(aPoly4, xA, yA, triDown, '#0000ff', 1);
svg.append('path')
   .datum(aExact)
   .attr('d', d3.line().x((d) => xA(d[0])).y((d) => yA(d[1])).curve(d3.curveCardinalClosed))
   .attr('fill', 'none').attr('stroke', '#000').attr('stroke-width', 3);
addText('a', 225.5, 15, 18, { weight: 'bold' });
addText('R [cm]', 225.5, 539, 18).attr('letter-spacing', 0.4);
addText('Z [cm]', 0, 0, 18).attr('letter-spacing', 0.4)
   .attr('transform', 'translate(21,260) rotate(-90)');

// ---- panel b ----
const boxB = { l: 486, r: 805.7, t: 23.3, b: 496.5 };
const xB = d3.scaleLinear().domain([0, 2 * Math.PI]).range([boxB.l, boxB.r]);
const yB = d3.scaleLinear().domain([0.1, 0.9]).range([boxB.b, boxB.t]);
drawAxes(boxB, xB, yB, bXTicks, bYTicks, { tick: 5, xPad: 9, yPad: 6, font: 17 });
drawMarkers(bPoly2, xB, yB, diamond, green, 1.2);
drawMarkers(bPoly3, xB, yB, square, '#ff0000', 1);
drawMarkers(bPoly4, xB, yB, triDown, '#0000ff', 1);
svg.append('path')
   .datum(bExact)
   .attr('d', d3.line().x((d) => xB(d[0])).y((d) => yB(d[1])).curve(d3.curveMonotoneX))
   .attr('fill', 'none').attr('stroke', '#000').attr('stroke-width', 3);
addText('b', 645.8, 15, 18, { weight: 'bold' });
addText('\u03D1', 645.8, 540, 19, { style: 'italic' });
addText('s', 0, 0, 19, { style: 'italic' }).attr('transform', 'translate(446,261) rotate(-90)');

// legend b
const legB = svg.append('g');
legB.append('rect').attr('x', 541.7).attr('y', 32.3).attr('width', 207.3).attr('height', 109.4)
    .attr('fill', '#fff').attr('stroke', ink).attr('stroke-width', 1);
const legBY = [46.7, 73.3, 100, 126.7];
legB.append('circle').attr('cx', 564).attr('cy', legBY[0]).attr('r', 1.6).attr('fill', '#000');
legB.append('path').attr('d', 'M0,-5.5L4.6,0L0,5.5L-4.6,0Z').attr('transform', 'translate(564,' + legBY[1] + ')')
    .attr('fill', 'none').attr('stroke', green).attr('stroke-width', 1.1);
legB.append('path').attr('d', square).attr('transform', 'translate(564,' + legBY[2] + ')')
    .attr('fill', 'none').attr('stroke', '#ff0000').attr('stroke-width', 1);
legB.append('path').attr('d', 'M-4.8,-3.5L4.8,-3.5L0,4.8Z').attr('transform', 'translate(564,' + legBY[3] + ')')
    .attr('fill', 'none').attr('stroke', '#0000ff').attr('stroke-width', 1);
legendNames.forEach((name, i) => {
    addText(name, 585.7, legBY[i] + 7, 21, { anchor: 'start' }).attr('letter-spacing', 0.7);
});

// ---- panel c ----
const boxC = { l: 905.7, r: 1226, t: 23.3, b: 496.5 };
const xC = d3.scaleLinear().domain([0, 10.5]).range([boxC.l, boxC.r]);
const yC = d3.scaleLinear().domain([-1.7, 1.2]).range([boxC.b, boxC.t]);
drawAxes(boxC, xC, yC, cXTicks, cYTicks, { tick: 5, xPad: 9, yPad: 6, font: 17 });
const lineC = (ys, sx, sy) => d3.line().x((d, i) => sx(cMappings[i])).y((d) => sy(d)).curve(d3.curveMonotoneX)(ys);

svg.append('path').attr('d', lineC(cExact, xC, yC))
   .attr('fill', 'none').attr('stroke', '#000').attr('stroke-width', 3);
svg.append('path').attr('d', lineC(cPoly2, xC, yC))
   .attr('fill', 'none').attr('stroke', greenLine).attr('stroke-width', 4).attr('stroke-dasharray', '10,3,3,3');
svg.append('path').attr('d', lineC(cPoly4, xC, yC))
   .attr('fill', 'none').attr('stroke', '#0000ff').attr('stroke-width', 4.5).attr('stroke-dasharray', '9,3');
svg.append('path').attr('d', lineC(cPoly3, xC, yC))
   .attr('fill', 'none').attr('stroke', '#ff0000').attr('stroke-width', 3).attr('stroke-dasharray', '2.5,2');

// zoom box and connector
svg.append('rect').attr('x', 906).attr('y', 39.3).attr('width', 307.7).attr('height', 32.7)
   .attr('fill', 'none').attr('stroke', '#000').attr('stroke-width', 1);
svg.append('line').attr('x1', 1058.5).attr('y1', 72).attr('x2', 1083.3).attr('y2', 89.3)
   .attr('stroke', '#000').attr('stroke-width', 0.8);

// inset
const boxI = { l: 1083.3, r: 1210.7, t: 89.3, b: 205.7 };
svg.append('rect').attr('x', boxI.l).attr('y', boxI.t).attr('width', boxI.r - boxI.l).attr('height', boxI.b - boxI.t).attr('fill', '#fff');
const xI = d3.scaleLinear().domain([0, 10]).range([boxI.l, boxI.r]);
const yI = d3.scaleLinear().domain([0.99999985, 1.00000005]).range([boxI.b, boxI.t]);
drawAxes(boxI, xI, yI, insetXTicks, insetYTicks, {
    tick: 3, xPad: 5, yPad: 4, font: 10.5,
    yFmt: (d, i) => insetYLabels[i]
});
svg.append('path').attr('d', lineC(cExact, xI, yI))
   .attr('fill', 'none').attr('stroke', '#000').attr('stroke-width', 1.5);
svg.append('path').attr('d', lineC(cPoly4, xI, yI))
   .attr('fill', 'none').attr('stroke', '#0000ff').attr('stroke-width', 4).attr('stroke-dasharray', '9,9.5');
svg.append('path').attr('d', lineC(cPoly3, xI, yI))
   .attr('fill', 'none').attr('stroke', '#ff0000').attr('stroke-width', 3).attr('stroke-dasharray', '2.6,2');

// x10^5 multipliers
const mult = (px, py, big, small, dy) => {
    const t = svg.append('text').attr('x', px).attr('y', py).attr('text-anchor', 'end')
                 .attr('font-family', sans).attr('font-size', big).attr('fill', ink);
    t.append('tspan').text('\u00D710');
    t.append('tspan').attr('font-size', small).attr('dy', -dy).text('5');
};
mult(1226, 547, 17, 12, 8);
mult(1211, 236, 10.5, 7.5, 5);

addText('c', 1065.8, 15, 18, { weight: 'bold' });

// x label N_mappings
const nLab = svg.append('text').attr('x', 1066).attr('y', 539).attr('text-anchor', 'middle')
                .attr('font-family', serif).attr('font-size', 19).attr('fill', '#000');
nLab.append('tspan').attr('font-style', 'italic').text('N');
nLab.append('tspan').attr('font-size', 13).attr('dy', 4).text('mappings');

// y label p_phi / p_phi(t = 0)
const pLab = svg.append('text').attr('transform', 'translate(862,261) rotate(-90)').attr('text-anchor', 'middle')
                .attr('font-family', serif).attr('font-size', 19).attr('fill', '#000');
pLab.append('tspan').attr('font-style', 'italic').text('p');
pLab.append('tspan').attr('font-size', 13).attr('font-style', 'italic').attr('dy', 4).text('\u03C6');
pLab.append('tspan').attr('dy', -4).text('/');
pLab.append('tspan').attr('font-style', 'italic').text('p');
pLab.append('tspan').attr('font-size', 13).attr('font-style', 'italic').attr('dy', 4).text('\u03C6');
pLab.append('tspan').attr('dy', -4).text('(');
pLab.append('tspan').attr('font-style', 'italic').text('t');
pLab.append('tspan').text(' = 0)');

// legend c
const legC = svg.append('g');
legC.append('rect').attr('x', 915.7).attr('y', 378).attr('width', 207).attr('height', 109)
    .attr('fill', '#fff').attr('stroke', ink).attr('stroke-width', 1);
const legCY = [392.7, 419.3, 445.7, 472];
const legStyles = [
    { c: '#000', w: 4, d: null },
    { c: greenLine, w: 4, d: '13,4,4,4' },
    { c: '#ff0000', w: 4, d: '3,2' },
    { c: '#0000ff', w: 4, d: '18,10' }
];
legStyles.forEach((s, i) => {
    const ln = legC.append('line').attr('x1', 920).attr('x2', 955).attr('y1', legCY[i]).attr('y2', legCY[i])
                   .attr('stroke', s.c).attr('stroke-width', s.w);
    if (s.d) ln.attr('stroke-dasharray', s.d);
    addText(legendNames[i], 959, legCY[i] + 7, 21, { anchor: 'start' }).attr('letter-spacing', 0.7);
});
</script>
</body>
</html>
